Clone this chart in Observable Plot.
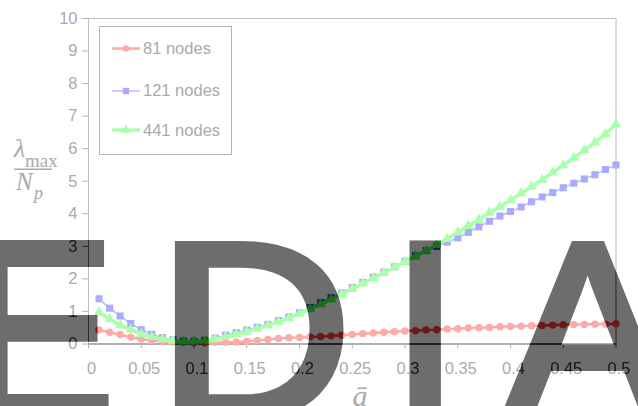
<!DOCTYPE html>
<html>
<head>
<meta charset="utf-8">
<script src="https://cdn.jsdelivr.net/npm/d3@7"></script>
<script src="https://cdn.jsdelivr.net/npm/@observablehq/plot@0.6"></script>
<style>
  html, body { margin: 0; padding: 0; background: #fff; }
  #chart { position: relative; width: 638px; height: 406px; overflow: hidden; }
</style>
</head>
<body>
<div id="chart"></div>
<script>
// ---- data ----
const aBar = [0.01,0.02,0.03,0.04,0.05,0.06,0.07,0.08,0.09,0.10,
              0.11,0.12,0.13,0.14,0.15,0.16,0.17,0.18,0.19,0.20,
              0.21,0.22,0.23,0.24,0.25,0.26,0.27,0.28,0.29,0.30,
              0.31,0.32,0.33,0.34,0.35,0.36,0.37,0.38,0.39,0.40,
              0.41,0.42,0.43,0.44,0.45,0.46,0.47,0.48,0.49,0.50];
const nodes81 = [0.43,0.36,0.29,0.21,0.15,0.11,0.08,0.06,0.05,0.04,
                 0.04,0.05,0.05,0.06,0.08,0.11,0.14,0.17,0.19,0.20,
                 0.22,0.23,0.25,0.27,0.29,0.32,0.34,0.36,0.38,0.40,
                 0.41,0.43,0.44,0.46,0.47,0.49,0.50,0.51,0.53,0.54,
                 0.55,0.56,0.57,0.58,0.59,0.60,0.60,0.61,0.61,0.62];
const nodes121 = [1.39,1.10,0.86,0.63,0.44,0.30,0.20,0.13,0.09,0.08,
                  0.11,0.18,0.27,0.35,0.43,0.51,0.60,0.72,0.83,0.96,
                  1.12,1.27,1.42,1.57,1.73,1.89,2.05,2.21,2.37,2.54,
                  2.71,2.87,3.00,3.13,3.26,3.43,3.60,3.77,3.93,4.07,
                  4.21,4.37,4.52,4.65,4.80,4.94,5.07,5.20,5.36,5.50];
const nodes441 = [0.97,0.77,0.58,0.44,0.31,0.22,0.15,0.10,0.08,0.08,
                  0.10,0.15,0.22,0.30,0.38,0.47,0.57,0.68,0.80,0.93,
                  1.07,1.22,1.37,1.53,1.69,1.86,2.02,2.19,2.36,2.53,
                  2.70,2.87,3.04,3.23,3.43,3.63,3.82,4.03,4.22,4.42,
                  4.63,4.84,5.05,5.27,5.49,5.72,5.95,6.19,6.45,6.75];
const seriesNames = ["81 nodes", "121 nodes", "441 nodes"];
const xTicks = [0,0.05,0.1,0.15,0.2,0.25,0.3,0.35,0.4,0.45,0.5];
const xTickLabels = ["0","0.05","0.1","0.15","0.2","0.25","0.3","0.35","0.4","0.45","0.5"];
const yTicks = [0,1,2,3,4,5,6,7,8,9,10];
const xLabel = "ā";
const yLabelTop = "λ", yLabelTopSub = "max", yLabelBottom = "N", yLabelBottomSub = "p";
const watermarkText = "EDIA";

// ---- styles ----
const W = 638, H = 406;
const TEXT = "#aaaaaa";
const colors = ["#ffaaaa", "#aaaaff", "#aaffaa"];
const symbols = ["circle", "square", "triangle"];
const lineWidths = [2.6, 1.2, 3.5];
const dotR = [3.7, 4, 3.9];

const seriesData = [nodes81, nodes121, nodes441].map((arr, k) =>
  arr.map((v, i) => ({a: aBar[i], v, s: seriesNames[k]})));

const seriesMarks = seriesData.flatMap((rows, k) => [
  Plot.line(rows, {x: "a", y: "v", stroke: colors[k], strokeWidth: lineWidths[k]}),
  Plot.dot(rows, {x: "a", y: "v", symbol: symbols[k], r: dotR[k], fill: colors[k], stroke: "none"})
]);

const chart = Plot.plot({
  width: W, height: H,
  marginLeft: 88, marginRight: 22.5, marginTop: 18, marginBottom: 62.5,
  style: {fontFamily: "'Liberation Sans', Arial, sans-serif", fontSize: "16.5px", background: "#fff", color: TEXT},
  x: {domain: [0, 0.5]},
  y: {domain: [0, 10]},
  marks: [
    Plot.frame({stroke: "#bdbdbd"}),
    Plot.axisY({ticks: yTicks, tickSize: 6, tickPadding: 5, stroke: "#b4b4b4", fill: TEXT, fontSize: 16.5, label: null}),
    Plot.axisX({ticks: xTicks, tickSize: 5, tickFormat: () => "", stroke: "#b4b4b4", label: null}),
    Plot.axisX({ticks: xTicks, tickSize: 0, tickPadding: 18, dx: 3,
      tickFormat: d => xTickLabels[xTicks.indexOf(d)], fill: TEXT, fontSize: 16.5, label: null}),
    Plot.ruleY([0], {stroke: "#b0b0b0", strokeWidth: 2}),
    ...seriesMarks
  ]
});

const svg = d3.select(chart);

// ---- legend ----
const lg = svg.append("g").attr("text-anchor", "start");
lg.append("rect").attr("x", 99.5).attr("y", 26.5).attr("width", 132).attr("height", 128)
  .attr("fill", "#fff").attr("stroke", "#b4b4b4");
const legendLineY = [48.5, 91, 130];
const legendTextY = [53.5, 96, 136];
const symMap = {circle: d3.symbolCircle, square: d3.symbolSquare, triangle: d3.symbolTriangle};
seriesNames.forEach((name, k) => {
  const ly = legendLineY[k];
  lg.append("line").attr("x1", 112).attr("x2", 140).attr("y1", ly).attr("y2", ly)
    .attr("stroke", colors[k]).attr("stroke-width", lineWidths[k]);
  lg.append("path").attr("transform", `translate(126,${ly})`)
    .attr("d", d3.symbol(symMap[symbols[k]], Math.PI * dotR[k] * dotR[k] * 0.8)())
    .attr("fill", colors[k]);
  lg.append("text").attr("x", 143).attr("y", legendTextY[k]).attr("font-size", 16.5)
    .attr("fill", TEXT).text(name);
});

// ---- axis titles ----
const serif = "'Liberation Serif', 'DejaVu Serif', serif";
svg.append("text").attr("x", 360).attr("y", 406).attr("text-anchor", "middle")
  .attr("font-family", serif).attr("font-style", "italic").attr("font-size", 30)
  .attr("fill", TEXT).text(xLabel);
const yl = svg.append("g").attr("fill", TEXT).attr("font-family", serif).attr("text-anchor", "start");
yl.append("text").attr("x", 14).attr("y", 157).attr("font-style", "italic").attr("font-size", 26).text(yLabelTop);
yl.append("text").attr("x", 25).attr("y", 166.5).attr("font-size", 19).text(yLabelTopSub);
yl.append("rect").attr("x", 14).attr("y", 168.5).attr("width", 38).attr("height", 1.5);
yl.append("text").attr("x", 16).attr("y", 190).attr("font-style", "italic").attr("font-size", 25).text(yLabelBottom);
yl.append("text").attr("x", 34).attr("y", 199).attr("font-style", "italic").attr("font-size", 18).text(yLabelBottomSub);

// ---- watermark: darkened copy of the chart seen through big letters ----
const content = Array.from(chart.childNodes).filter(n => n.nodeName !== "style" && n.nodeName !== "defs");
const defs = svg.append("defs");
const filt = defs.append("filter").attr("id", "wmDark").attr("filterUnits", "userSpaceOnUse")
  .attr("x", 0).attr("y", 0).attr("width", W).attr("height", H)
  .attr("color-interpolation-filters", "sRGB");
const ct = filt.append("feComponentTransfer");
["R", "G", "B"].forEach(c => ct.append("feFunc" + c).attr("type", "linear").attr("slope", 1).attr("intercept", -0.57));
const mask = defs.append("mask").attr("id", "wmMask").attr("maskUnits", "userSpaceOnUse")
  .attr("x", 0).attr("y", 0).attr("width", W).attr("height", H);
const wmOrigins = [-35.6, 157.1, 390.5, 504];   // glyph placement (style)
const wmScaleX = [0.9, 1.08, 1, 1];
Array.from(watermarkText).forEach((ch, i) => {
  mask.append("text").attr("text-anchor", "start")
    .attr("transform", `translate(${wmOrigins[i]},417) scale(${wmScaleX[i]},1)`)
    .attr("font-family", "'Liberation Sans', Arial, sans-serif").attr("font-size", 250)
    .attr("fill", "#fff").attr("stroke", "#fff").attr("stroke-width", 8).attr("stroke-linejoin", "miter")
    .text(ch);
});
const over = svg.append("g").attr("mask", "url(#wmMask)").append("g").attr("filter", "url(#wmDark)");
over.append("rect").attr("width", W).attr("height", H).attr("fill", "#fff");
content.forEach(n => over.node().appendChild(n.cloneNode(true)));

document.getElementById("chart").appendChild(chart);
</script>
</body>
</html>
